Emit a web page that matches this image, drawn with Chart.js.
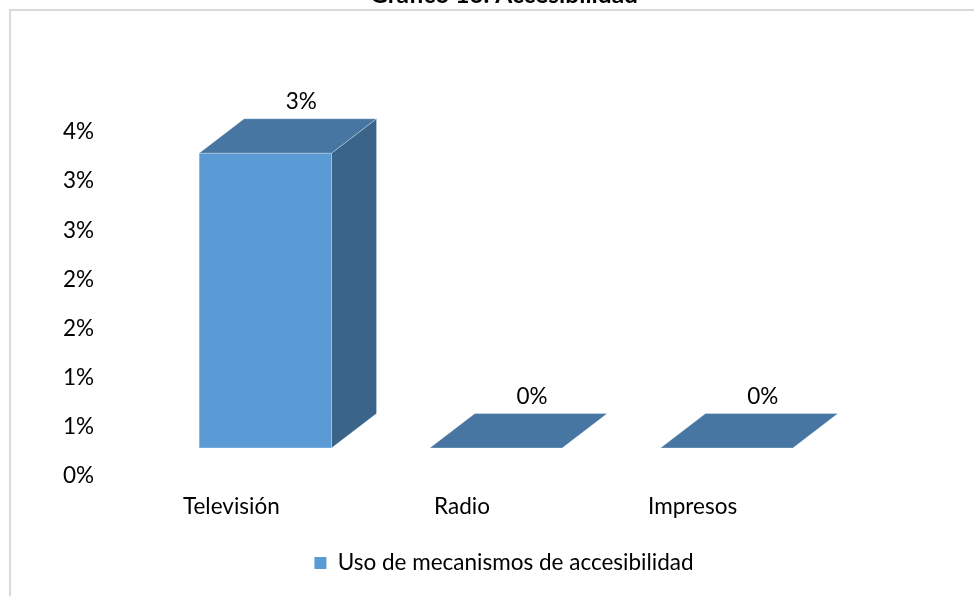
<!DOCTYPE html>
<html>
<head>
<meta charset="utf-8">
<script src="https://cdn.jsdelivr.net/npm/chart.js@4.4.1/dist/chart.umd.min.js"></script>
<style>
    html, body { margin: 0; padding: 0; background: #fff; overflow: hidden; }
    #wrap { position: absolute; left: 0; top: -20px; width: 974px; height: 616px; }
</style>
</head>
<body>
<div id="wrap"><canvas id="accChart"></canvas></div>
<script>
// Chart data
const categories = ['Televisión', 'Radio', 'Impresos'];
const usoValues = [3.0, 0, 0];   // percent
const seriesName = 'Uso de mecanismos de accesibilidad';
const yMax = 3.5;
const yStep = 0.5;

const FONT = "Lato, 'Noto Sans', sans-serif";
const OFFSET_TOP = 20; // canvas is shifted up so the title is cut like the original

// 3D look: front face is pushed back from the axis plane, then extruded
const frontShift = { x: 34, y: -28 };
const depthRatio = { x: 0.34, y: -0.26 };
const faceColors = { front: '#5B9BD5', top: '#4676A1', side: '#3A6589' };

const frame = {
    id: 'frame',
    beforeDraw(chart) {
        const ctx = chart.ctx;
        ctx.save();
        ctx.strokeStyle = '#d9d9d9';
        ctx.lineWidth = 2;
        ctx.strokeRect(10, 10 + OFFSET_TOP, chart.width + 20, chart.height + 20);
        ctx.restore();
    }
};

const bars3d = {
    id: 'bars3d',
    beforeDatasetsDraw(chart) {
        const ctx = chart.ctx;
        const meta = chart.getDatasetMeta(0);
        ctx.save();
        meta.data.forEach((bar, i) => {
            const w = bar.width;
            const cx = bar.x + frontShift.x;
            const l = cx - w / 2, r = cx + w / 2;
            const t = bar.y + frontShift.y, b = bar.base + frontShift.y;
            const dx = w * depthRatio.x, dy = w * depthRatio.y;

            ctx.lineWidth = 1;
            ctx.strokeStyle = 'rgba(255,255,255,0.3)';

            if (b - t > 0.5) {
                ctx.fillStyle = faceColors.front;
                ctx.fillRect(l, t, w, b - t);
                ctx.strokeRect(l, t, w, b - t);

                ctx.beginPath();
                ctx.moveTo(r, t);
                ctx.lineTo(r + dx, t + dy);
                ctx.lineTo(r + dx, b + dy);
                ctx.lineTo(r, b);
                ctx.closePath();
                ctx.fillStyle = faceColors.side;
                ctx.fill();
                ctx.stroke();
            }

            ctx.beginPath();
            ctx.moveTo(l, t);
            ctx.lineTo(l + dx, t + dy);
            ctx.lineTo(r + dx, t + dy);
            ctx.lineTo(r, t);
            ctx.closePath();
            ctx.fillStyle = faceColors.top;
            ctx.fill();
            ctx.stroke();

            // value label
            ctx.fillStyle = '#000';
            ctx.font = '22.5px ' + FONT;
            ctx.textAlign = 'center';
            ctx.textBaseline = 'middle';
            ctx.fillText(Math.round(usoValues[i]) + '%', cx + dx * 0.8, t + dy - 17);
        });
        ctx.restore();
        return false;
    }
};

new Chart(document.getElementById('accChart'), {
    type: 'bar',
    data: {
        labels: categories,
        datasets: [{
            label: seriesName,
            data: usoValues,
            backgroundColor: faceColors.front,
            borderWidth: 0,
            barPercentage: 0.574,
            categoryPercentage: 1
        }]
    },
    options: {
        responsive: true,
        maintainAspectRatio: false,
        animation: false,
        layout: { padding: { left: 34, right: 0, top: 0, bottom: 11.75 } },
        plugins: {
            title: {
                display: true,
                text: 'Gráfico 16. Accesibilidad',
                color: '#000',
                font: { family: FONT, size: 24.5, weight: 'bold' },
                padding: { top: 0, bottom: 122.6 }
            },
            legend: {
                position: 'bottom',
                labels: {
                    color: '#000',
                    boxWidth: 12,
                    boxHeight: 12,
                    padding: 10,
                    font: { family: FONT, size: 22.5 }
                }
            },
            tooltip: { enabled: false }
        },
        scales: {
            x: {
                grid: { display: false },
                border: { display: false },
                ticks: {
                    color: '#000',
                    padding: 9,
                    font: { family: FONT, size: 22.5 }
                },
                afterFit: s => { s.height = 65.75; }
            },
            y: {
                min: 0,
                max: yMax,
                grid: { display: false },
                border: { display: false },
                ticks: {
                    stepSize: yStep,
                    color: '#000',
                    padding: 14,
                    font: { family: FONT, size: 22.5 },
                    callback: v => Math.round(v) + '%'
                },
                afterFit: s => { s.width = 82; }
            },
            y2: {
                position: 'right',
                min: 0,
                max: 1,
                grid: { display: false },
                border: { display: false },
                ticks: { display: false },
                afterFit: s => { s.width = 166; }
            }
        }
    },
    plugins: [frame, bars3d]
});
</script>
</body>
</html>
